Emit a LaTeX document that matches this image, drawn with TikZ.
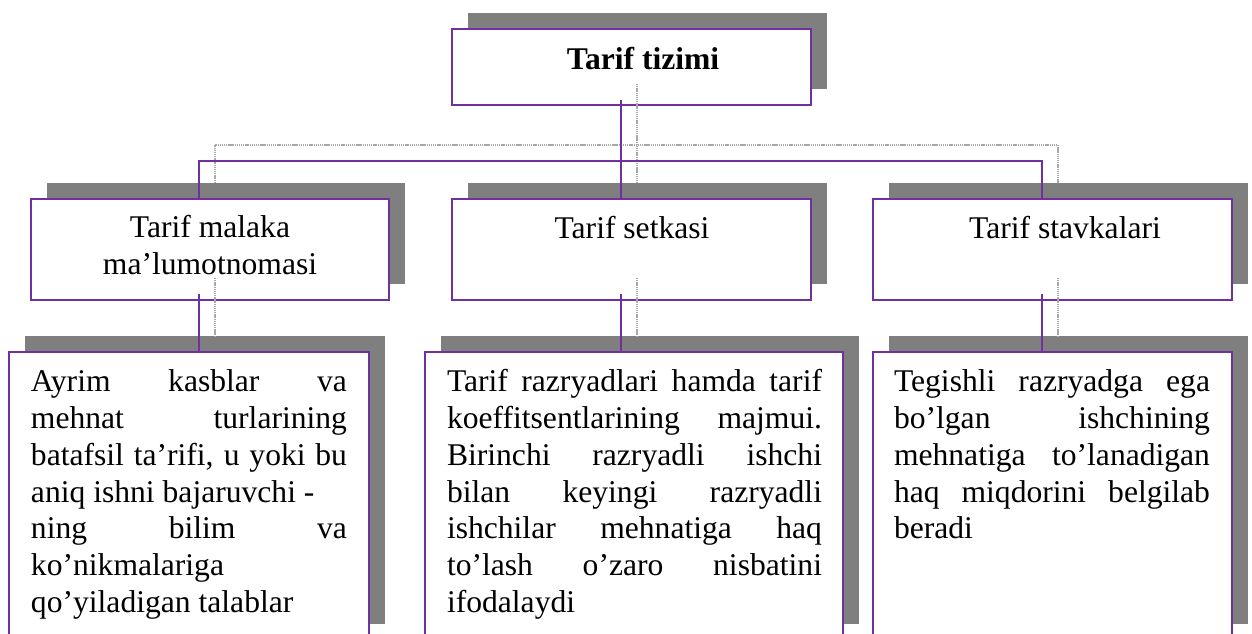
\documentclass[tikz,border=0pt]{standalone}
\usepackage{fontspec}
\setmainfont{Liberation Serif}
\usetikzlibrary{calc,shadows}
\definecolor{boxpurple}{HTML}{7030A0}
\definecolor{shadowgray}{HTML}{7F7F7F}
\definecolor{lightline}{HTML}{A8A8A8}
\newcommand{\jline}[1]{\makebox[\linewidth][s]{#1}}
\newcommand{\ptxt}{\fontsize{23.7pt}{27.5pt}\selectfont}
\begin{document}
\begin{tikzpicture}[x=0.75pt,y=-0.75pt,
  box/.style={rectangle, draw=boxpurple, line width=1.6pt, fill=white,
    anchor=north west, inner sep=0pt, outer sep=0pt,
    general shadow={draw=none, fill=shadowgray, shadow xshift=12pt, shadow yshift=12pt}},
  boxsize/.style 2 args={minimum width=#1*0.75pt, minimum height=#2*0.75pt},
  lbl/.style={anchor=base, inner sep=0pt, outer sep=0pt, font=\ptxt},
  pconn/.style={draw=boxpurple, line width=1.6pt},
  gconn/.style={draw=lightline, line width=1.1pt, dash pattern=on 1pt off 0.6pt}]
\useasboundingbox (0,0) rectangle (1252,634);
\clip (0,0) rectangle (1252,634);

% boxes
\node[box, boxsize={359}{76}] (T) at (452,29) {};
\node[box, boxsize={358}{101}] (M1) at (31,199) {};
\node[box, boxsize={359}{101}] (M2) at (452,199) {};
\node[box, boxsize={359}{101}] (M3) at (873,199) {};
\node[box, boxsize={360}{288}] (B1) at (9,352) {};
\node[box, boxsize={418}{288}] (B2) at (425,352) {};
\node[box, boxsize={359}{288}] (B3) at (873,352) {};

% texts
\node[lbl, font=\ptxt\bfseries] (tT) at (643,70) {Tarif tizimi};
\node[lbl] (tM1) at (210,238) {\parbox[t]{225pt}{\centering Tarif malaka\\ ma’lumotnomasi}};
\node[lbl] (tM2) at (632,239) {Tarif setkasi};
\node[lbl] (tM3) at (1065,239) {Tarif stavkalari};

\node[lbl, anchor=base west] (tB1) at (31,392) {\parbox[t]{237pt}{\ptxt\raggedright
  \jline{Ayrim kasblar va}\\
  \jline{mehnat turlarining}\\
  \jline{batafsil ta’rifi, u yoki bu}\\
  aniq ishni bajaruvchi -\\
  \jline{ning bilim va}\\
  ko’nikmalariga\\
  qo’yiladigan talablar}};
\node[lbl, anchor=base west] (tB2) at (447,392) {\parbox[t]{281.25pt}{\ptxt\raggedright
  \jline{Tarif razryadlari hamda tarif}\\
  \jline{koeffitsentlarining majmui.}\\
  \jline{Birinchi razryadli ishchi}\\
  \jline{bilan keyingi razryadli}\\
  \jline{ishchilar mehnatiga haq}\\
  \jline{to’lash o’zaro nisbatini}\\
  ifodalaydi}};
\node[lbl, anchor=base west] (tB3) at (894,392) {\parbox[t]{237pt}{\ptxt\raggedright
  \jline{Tegishli razryadga ega}\\
  \jline{bo’lgan ishchining}\\
  \jline{mehnatiga to’lanadigan}\\
  \jline{haq miqdorini belgilab}\\
  beradi}};

% connector points
\coordinate (p0) at ($(T.south)+(-10.5,-5)$);
\coordinate (p1) at (p0 |- M2.north);
\coordinate (q1) at ($(M1.north)+(-11,0)$);
\coordinate (q3) at ($(M3.north)+(-10.5,0)$);
\coordinate (qb) at ($(q1)+(0,-38)$);
\coordinate (r1) at ($(M1.south)+(-11,-6)$);
\coordinate (r2) at ($(M2.south)+(-10.5,-6)$);
\coordinate (r3) at ($(M3.south)+(-10.5,-6)$);

% grey shadow connectors
\draw[gconn] ($(p0)+(16,-16)$) -- ($(p1)+(16,-16)$);
\draw[gconn] ($(q1)+(16,-16)$) -- ($(qb)+(16,-16)$) -| ($(q3)+(16,-16)$);
\draw[gconn] ($(r1)+(16,-16)$) -- ($(r1 |- B1.north)+(16,-16)$);
\draw[gconn] ($(r2)+(16,-16)$) -- ($(r2 |- B2.north)+(16,-16)$);
\draw[gconn] ($(r3)+(16,-16)$) -- ($(r3 |- B3.north)+(16,-16)$);

% purple connectors
\draw[pconn] (p0) -- (p1);
\draw[pconn] (q1) -- (qb) -| (q3);
\draw[pconn] (r1) -- (r1 |- B1.north);
\draw[pconn] (r2) -- (r2 |- B2.north);
\draw[pconn] (r3) -- (r3 |- B3.north);
\end{tikzpicture}
\end{document}
